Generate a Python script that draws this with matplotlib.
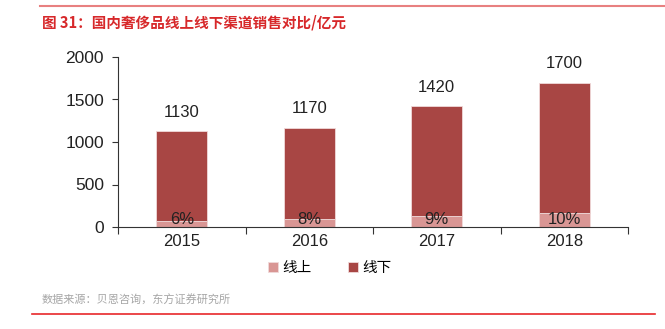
import matplotlib
matplotlib.use("Agg")
import matplotlib.pyplot as plt
from matplotlib.lines import Line2D

plt.rcParams['font.family'] = ['Liberation Sans', 'Noto Sans CJK SC', 'DejaVu Sans']

years = ['2015', '2016', '2017', '2018']
totals = [1130, 1170, 1420, 1700]
online_share = [6, 8, 9, 10]
online = [68, 94, 128, 170]
offline = [t - o for t, o in zip(totals, online)]
pct_labels = ['6%', '8%', '9%', '10%']

c_off = '#A84644'
c_on = '#D99694'

fig = plt.figure(figsize=(6.65, 3.29), dpi=100)
ax = fig.add_axes([118/665, 1 - 227/329, 510/665, 170/329])

x = list(range(len(years)))
ax.bar(x, online, width=0.4, color=c_on, edgecolor='#F0DADA', linewidth=0.6, label='线上')
ax.bar(x, offline, bottom=online, width=0.4, color=c_off, edgecolor='#F0DADA', linewidth=0.6, label='线下')

for xi, t, p in zip(x, totals, pct_labels):
    ax.annotate(str(t), (xi, t), xytext=(0, 8), textcoords='offset points',
                ha='center', va='bottom', fontsize=12, color='#222222')
    ax.text(xi, 0, p, ha='center', va='bottom', fontsize=12, color='#222222')

ax.set_xlim(-0.5, 3.5)
ax.set_ylim(0, 2000)
ax.set_yticks([0, 500, 1000, 1500, 2000])
ax.set_xticks([-0.5, 0.5, 1.5, 2.5, 3.5], minor=False)
ax.set_xticklabels([])
ax.set_xticks(x, minor=True)
ax.set_xticklabels(years, minor=True)
ax.tick_params(axis='x', which='major', length=5, width=0.8, direction='out', color='#333333')
ax.tick_params(axis='x', which='minor', length=0, labelsize=12, pad=5, labelcolor='#222222')
ax.tick_params(axis='y', length=4, width=0.8, labelsize=12.5, pad=6, labelcolor='#222222', color='#333333')
for s in ['top', 'right']:
    ax.spines[s].set_visible(False)
ax.spines['left'].set_linewidth(0.8)
ax.spines['bottom'].set_linewidth(0.8)
ax.spines['left'].set_color('#333333')
ax.spines['bottom'].set_color('#333333')

leg = fig.legend(loc='center', bbox_to_anchor=(330/665, 1 - 268/329), ncol=2, frameon=False,
                 handlelength=0.7, handleheight=0.7, handletextpad=0.3, columnspacing=2.5,
                 prop={'family': ['Noto Sans CJK SC'], 'size': 10.5})

fig.text(42/665, 1 - 22/329, '图 31：国内奢侈品线上线下渠道销售对比/亿元', fontsize=10.5, fontweight='bold',
         color='#D7282A', family=['Noto Sans CJK SC'], va='center', ha='left')
fig.text(42/665, 1 - 300/329, '数据来源：贝恩咨询，东方证券研究所', fontsize=8, color='#A6A6A6',
         family=['Noto Sans CJK SC'], va='center', ha='left')

fig.add_artist(Line2D([40/665, 1], [1 - 6/329, 1 - 6/329], color='#E88080', linewidth=1.5))
fig.add_artist(Line2D([32/665, 655/665], [1 - 314/329, 1 - 314/329], color='#E8282A', linewidth=1.2))

fig.savefig('out.png', dpi=100)
